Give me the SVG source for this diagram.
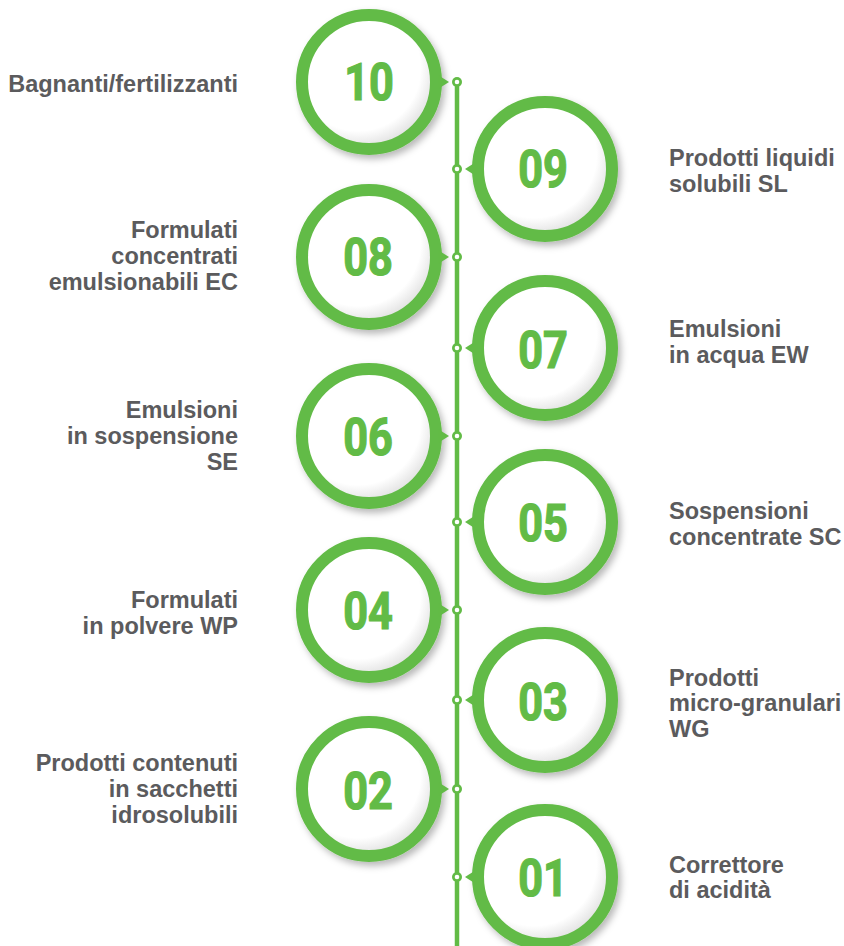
<svg xmlns="http://www.w3.org/2000/svg" width="844" height="946" viewBox="0 0 844 946">
<defs>
<style>
.ring{fill:none;stroke:#62BB46;stroke-width:12}
.disc{fill:url(#dg)}
.ptr{fill:#62BB46}
.num{font-family:Roboto,"Liberation Sans",sans-serif;font-weight:bold;font-size:51px;fill:#62BB46;stroke:#62BB46;stroke-width:1.2;text-anchor:middle}
.lbl{font-family:"Liberation Sans",Arial,sans-serif;font-weight:bold;font-size:23.5px;fill:#5B5B5D}
.l{text-anchor:end}
.line{stroke:#62BB46;stroke-width:4.5}
.dot{fill:#62BB46}
.dotc{fill:#fff}
.sh{filter:url(#ds)}
</style>
<radialGradient id="dg" cx="0.42" cy="0.4" r="0.62">
<stop offset="0.75" stop-color="#ffffff"/>
<stop offset="1" stop-color="#dcdcdc"/>
</radialGradient>
<filter id="ds" x="-20%" y="-20%" width="140%" height="140%">
<feDropShadow dx="3" dy="4" stdDeviation="3.5" flood-color="#000" flood-opacity="0.28"/>
</filter>
</defs>
<rect width="844" height="946" fill="#fff"/>

<g id="connectors">
<line class="line" x1="457" y1="82" x2="457" y2="946"/>
<g>
<circle class="dot" cx="457" cy="82" r="5"/><circle class="dotc" cx="457" cy="82" r="2.3"/>
<circle class="dot" cx="457" cy="169" r="5"/><circle class="dotc" cx="457" cy="169" r="2.3"/>
<circle class="dot" cx="457" cy="257" r="5"/><circle class="dotc" cx="457" cy="257" r="2.3"/>
<circle class="dot" cx="457" cy="348" r="5"/><circle class="dotc" cx="457" cy="348" r="2.3"/>
<circle class="dot" cx="457" cy="436" r="5"/><circle class="dotc" cx="457" cy="436" r="2.3"/>
<circle class="dot" cx="457" cy="522" r="5"/><circle class="dotc" cx="457" cy="522" r="2.3"/>
<circle class="dot" cx="457" cy="610" r="5"/><circle class="dotc" cx="457" cy="610" r="2.3"/>
<circle class="dot" cx="457" cy="700" r="5"/><circle class="dotc" cx="457" cy="700" r="2.3"/>
<circle class="dot" cx="457" cy="789" r="5"/><circle class="dotc" cx="457" cy="789" r="2.3"/>
<circle class="dot" cx="457" cy="877" r="5"/><circle class="dotc" cx="457" cy="877" r="2.3"/>
</g>
</g>

<g id="n10">
<g class="sh"><circle class="disc" cx="369" cy="82" r="67"/><circle class="ring" cx="369" cy="82" r="67"/></g>
<polygon class="ptr" points="438,75 449,82 438,89"/>
<text class="num" transform="translate(369,100) scale(0.85,1)">10</text>
<text class="lbl l" x="238" y="92">Bagnanti/fertilizzanti</text>
</g>

<g id="n09">
<g class="sh"><circle class="disc" cx="545" cy="169" r="67"/><circle class="ring" cx="545" cy="169" r="67"/></g>
<polygon class="ptr" points="476,162 465,169 476,176"/>
<text class="num" transform="translate(543,187) scale(0.85,1)">09</text>
<text class="lbl" x="669" y="166">Prodotti liquidi</text>
<text class="lbl" x="669" y="192">solubili SL</text>
</g>

<g id="n08">
<g class="sh"><circle class="disc" cx="369" cy="257" r="67"/><circle class="ring" cx="369" cy="257" r="67"/></g>
<polygon class="ptr" points="438,250 449,257 438,264"/>
<text class="num" transform="translate(368,275) scale(0.85,1)">08</text>
<text class="lbl l" x="238" y="238">Formulati</text>
<text class="lbl l" x="238" y="264">concentrati</text>
<text class="lbl l" x="238" y="290">emulsionabili EC</text>
</g>

<g id="n07">
<g class="sh"><circle class="disc" cx="545" cy="348" r="67"/><circle class="ring" cx="545" cy="348" r="67"/></g>
<polygon class="ptr" points="476,341 465,348 476,355"/>
<text class="num" transform="translate(543,368) scale(0.85,1)">07</text>
<text class="lbl" x="669" y="337">Emulsioni</text>
<text class="lbl" x="669" y="363">in acqua EW</text>
</g>

<g id="n06">
<g class="sh"><circle class="disc" cx="369" cy="436" r="67"/><circle class="ring" cx="369" cy="436" r="67"/></g>
<polygon class="ptr" points="438,429 449,436 438,443"/>
<text class="num" transform="translate(368,455) scale(0.85,1)">06</text>
<text class="lbl l" x="238" y="418">Emulsioni</text>
<text class="lbl l" x="238" y="444">in sospensione</text>
<text class="lbl l" x="238" y="470">SE</text>
</g>

<g id="n05">
<g class="sh"><circle class="disc" cx="545" cy="522" r="67"/><circle class="ring" cx="545" cy="522" r="67"/></g>
<polygon class="ptr" points="476,515 465,522 476,529"/>
<text class="num" transform="translate(543,541) scale(0.85,1)">05</text>
<text class="lbl" x="669" y="519">Sospensioni</text>
<text class="lbl" x="669" y="545">concentrate SC</text>
</g>

<g id="n04">
<g class="sh"><circle class="disc" cx="369" cy="610" r="67"/><circle class="ring" cx="369" cy="610" r="67"/></g>
<polygon class="ptr" points="438,603 449,610 438,617"/>
<text class="num" transform="translate(368,629) scale(0.85,1)">04</text>
<text class="lbl l" x="238" y="608">Formulati</text>
<text class="lbl l" x="238" y="634">in polvere WP</text>
</g>

<g id="n03">
<g class="sh"><circle class="disc" cx="545" cy="700" r="67"/><circle class="ring" cx="545" cy="700" r="67"/></g>
<polygon class="ptr" points="476,693 465,700 476,707"/>
<text class="num" transform="translate(543,720) scale(0.85,1)">03</text>
<text class="lbl" x="669" y="686">Prodotti</text>
<text class="lbl" x="669" y="711">micro-granulari</text>
<text class="lbl" x="669" y="737">WG</text>
</g>

<g id="n02">
<g class="sh"><circle class="disc" cx="369" cy="789" r="67"/><circle class="ring" cx="369" cy="789" r="67"/></g>
<polygon class="ptr" points="438,782 449,789 438,796"/>
<text class="num" transform="translate(368,809) scale(0.85,1)">02</text>
<text class="lbl l" x="238" y="771">Prodotti contenuti</text>
<text class="lbl l" x="238" y="797">in sacchetti</text>
<text class="lbl l" x="238" y="823">idrosolubili</text>
</g>

<g id="n01">
<g class="sh"><circle class="disc" cx="545" cy="877" r="67"/><circle class="ring" cx="545" cy="877" r="67"/></g>
<polygon class="ptr" points="476,870 465,877 476,884"/>
<text class="num" transform="translate(543,896) scale(0.85,1)">01</text>
<text class="lbl" x="669" y="873">Correttore</text>
<text class="lbl" x="669" y="898">di acidità</text>
</g>
</svg>
